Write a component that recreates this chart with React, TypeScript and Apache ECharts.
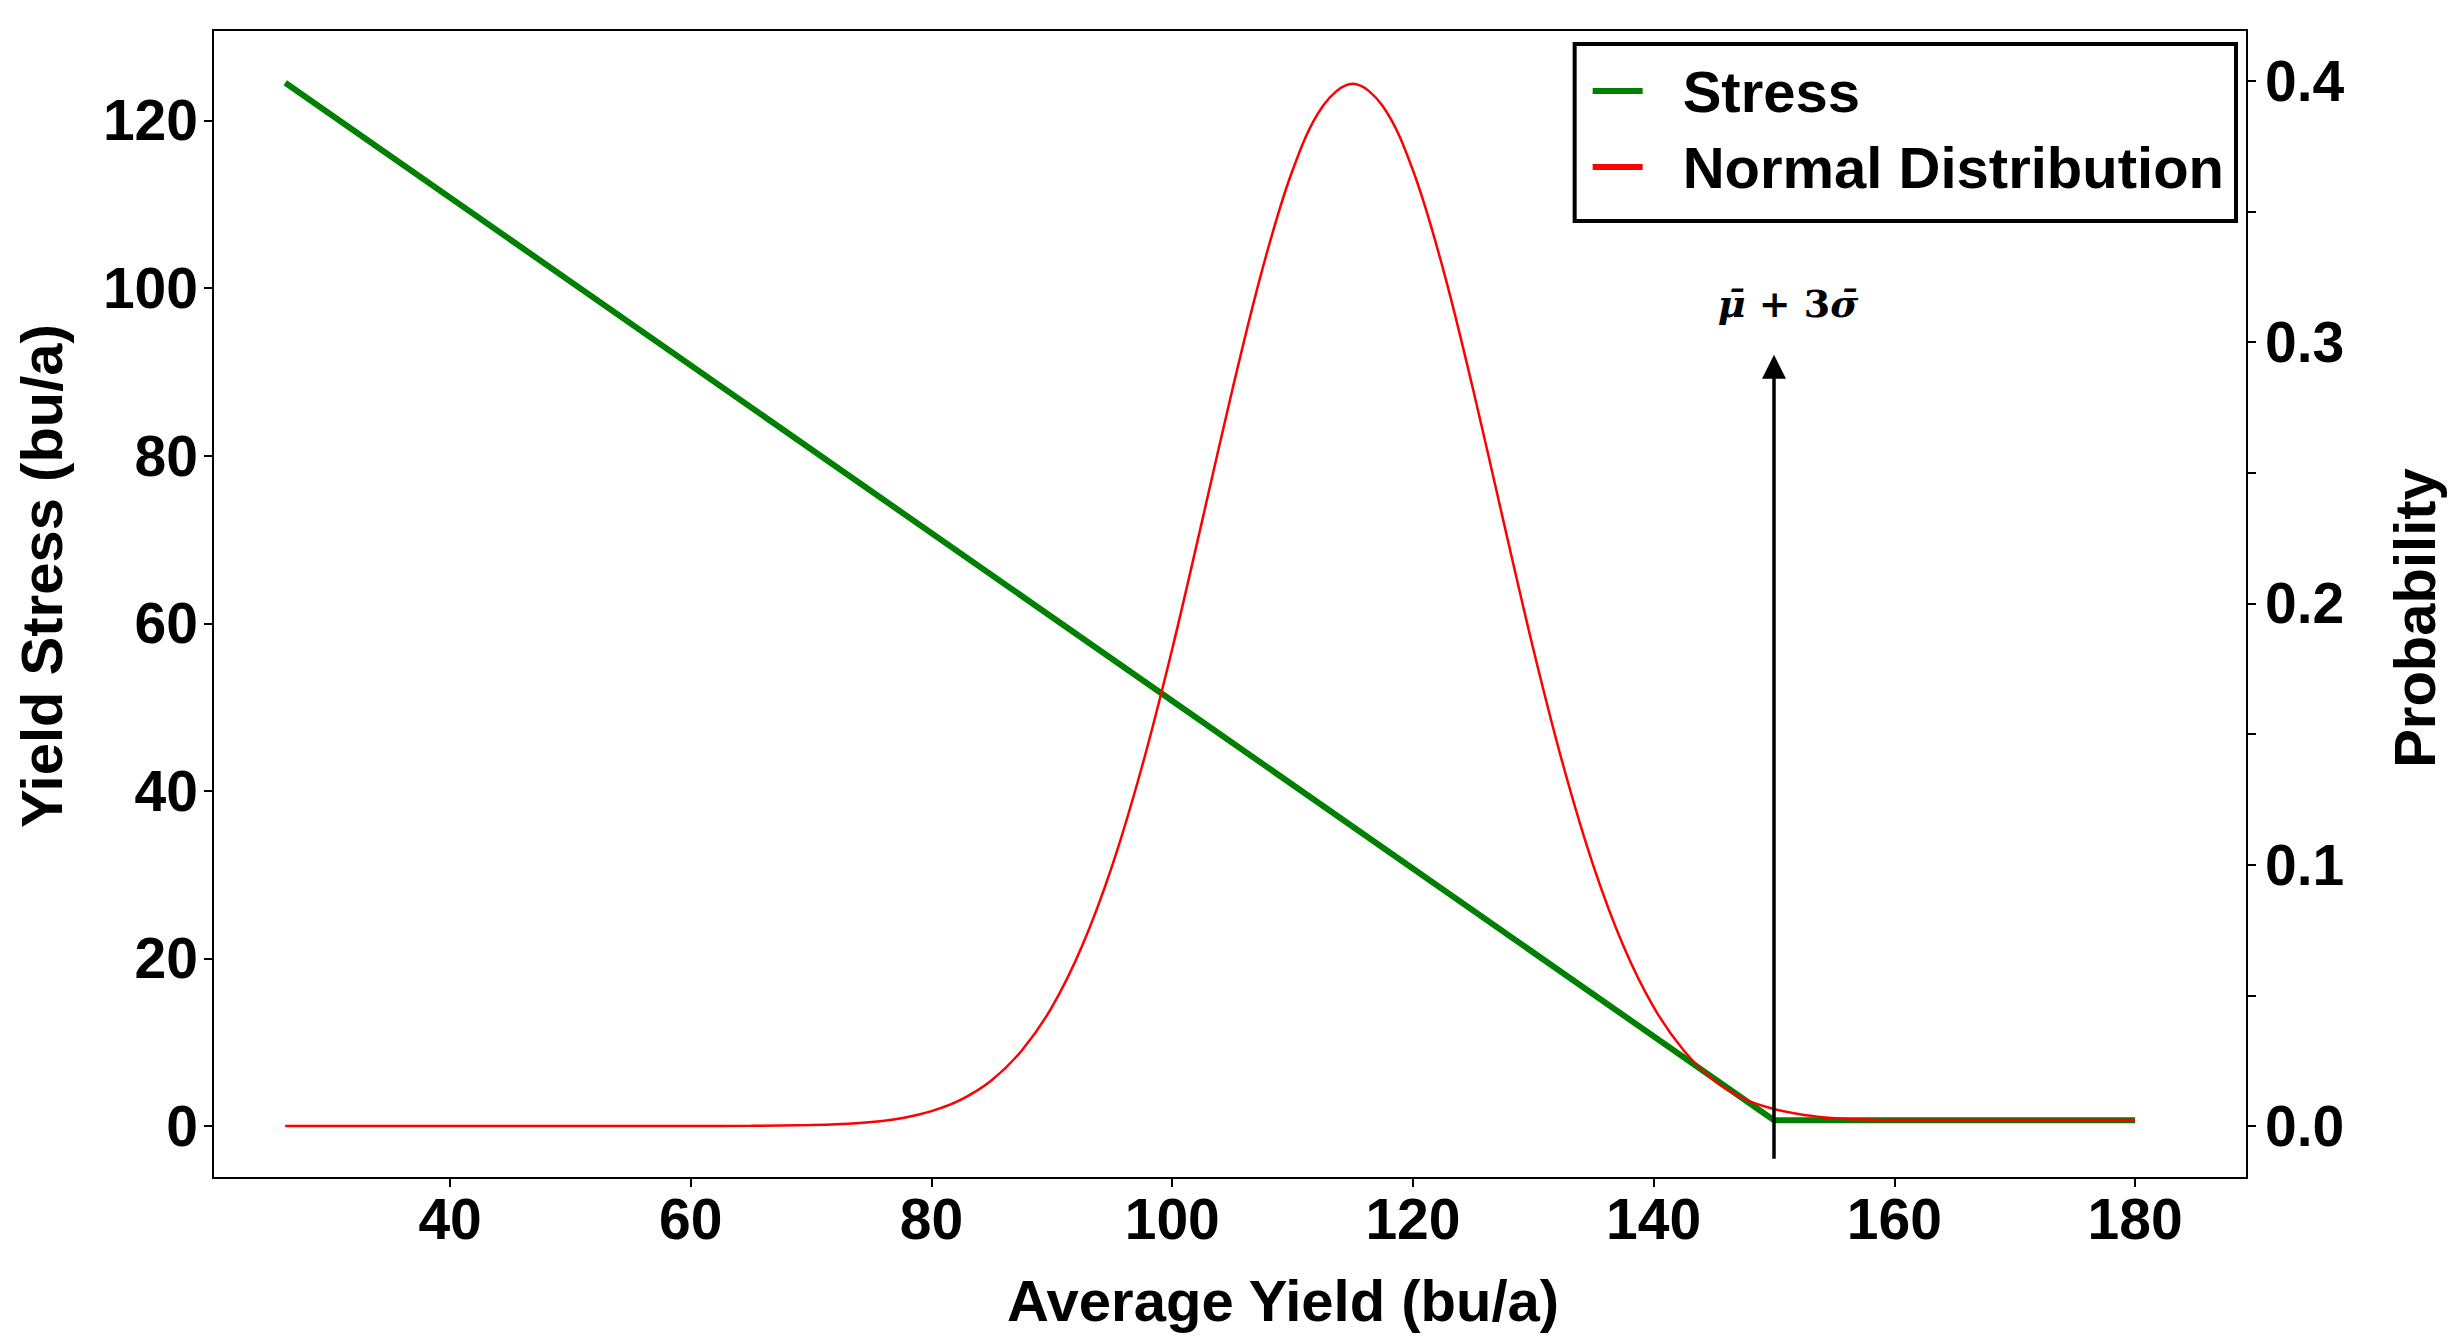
import React, { useEffect, useRef } from "react";
import * as echarts from "echarts";

// ---- data ----
const stressX = [26.3, 150, 180];
const stressY = [124.5, 0.7, 0.7];

const normX = [
  26.3, 40, 50, 60, 65, 70, 72.5, 75, 77.5, 80, 82.5, 85, 87.5, 90, 92.5, 95, 97.5,
  100, 102.5, 105, 107.5, 110, 112.5, 115, 117.5, 120, 122.5, 125, 127.5, 130,
  132.5, 135, 137.5, 140, 142.5, 145, 147.5, 150, 152.5, 155, 157.5, 160, 170, 180,
];
const normY = [
  0, 0, 0, 0.00001, 0.00007, 0.00035, 0.00075, 0.0015, 0.003, 0.0057, 0.0102, 0.0175,
  0.0289, 0.0455, 0.0688, 0.0995, 0.1378, 0.1826, 0.2319, 0.2819, 0.3281, 0.3658,
  0.3903, 0.3989, 0.3903, 0.3658, 0.3281, 0.2819, 0.2319, 0.1826, 0.1378, 0.0995,
  0.0688, 0.0455, 0.0289, 0.0175, 0.0104, 0.0065, 0.0042, 0.003, 0.0025, 0.0023,
  0.0023, 0.0023,
];

const xTicks = [40, 60, 80, 100, 120, 140, 160, 180];
const yLeftTicks = [0, 20, 40, 60, 80, 100, 120];
const yRightLabels = [0, 0.1, 0.2, 0.3, 0.4];
const yRightTicks = [0, 0.05, 0.1, 0.15, 0.2, 0.25, 0.3, 0.35, 0.4];

const arrowX = 150;
const arrowY = [-3.9, 90.6];
const arrowLabel = "{i|\u03BC\u0304} + 3{i|\u03C3\u0304}";

const seriesNames = ["Stress", "Normal Distribution"];
const xTitle = "Average Yield (bu/a)";
const yLeftTitle = "Yield Stress (bu/a)";
const yRightTitle = "Probability";

const FONT = "'Liberation Sans', Arial, sans-serif";
const SERIF = "'DejaVu Serif', 'Liberation Serif', serif";

export default function App() {
  const ref = useRef<HTMLDivElement>(null);

  useEffect(() => {
    if (!ref.current) return;
    const chart = echarts.init(ref.current, undefined, { renderer: "svg" });

    const tickLabel = {
      fontFamily: FONT,
      fontWeight: "bold" as const,
      fontSize: 57,
      color: "#000",
    };
    const axisTick = { show: true, length: 9, lineStyle: { color: "#000", width: 2 } };

    chart.setOption({
      animation: false,
      backgroundColor: "#fff",
      grid: {
        left: 213,
        top: 30,
        width: 2034,
        height: 1148,
        show: true,
        borderColor: "#000",
        borderWidth: 2,
        backgroundColor: "transparent",
      },
      legend: {
        orient: "vertical",
        right: 220,
        top: 44,
        backgroundColor: "#fff",
        borderColor: "#000",
        borderWidth: 4,
        borderRadius: 0,
        padding: [18, 12, 25, 18],
        itemGap: 18,
        itemWidth: 50,
        itemHeight: 6,
        icon: "rect",
        data: seriesNames,
        textStyle: {
          fontFamily: FONT,
          fontWeight: "bold",
          fontSize: 58,
          lineHeight: 58,
          color: "#000",
          padding: [0, 0, 0, 35],
        },
      },
      xAxis: {
        type: "value",
        min: 20.3,
        max: 189.3,
        axisLine: { show: false, onZero: false },
        axisTick: { ...axisTick, customValues: xTicks },
        axisLabel: { ...tickLabel, margin: 12, customValues: xTicks },
        splitLine: { show: false },
      },
      yAxis: [
        {
          type: "value",
          position: "left",
          min: -6.2,
          max: 130.8,
          axisLine: { show: false, onZero: false },
          axisTick: { ...axisTick, customValues: yLeftTicks },
          axisLabel: { ...tickLabel, margin: 15, customValues: yLeftTicks },
          splitLine: { show: false },
        },
        {
          type: "value",
          position: "right",
          min: -0.0199,
          max: 0.4195,
          axisLine: { show: false, onZero: false },
          axisTick: { ...axisTick, customValues: yRightTicks },
          axisLabel: {
            ...tickLabel,
            margin: 18,
            customValues: yRightLabels,
            formatter: (v: number) => v.toFixed(1),
          },
          splitLine: { show: false },
        },
      ],
      series: [
        {
          name: seriesNames[0],
          type: "line",
          yAxisIndex: 0,
          symbol: "none",
          data: stressX.map((x, i) => [x, stressY[i]]),
          lineStyle: { color: "#008000", width: 6 },
          itemStyle: { color: "#008000" },
          markLine: {
            silent: true,
            symbol: ["none", "triangle"],
            symbolSize: [24, 24],
            lineStyle: { color: "#000", width: 3.5, type: "solid" },
            label: {
              show: true,
              position: "end",
              distance: 44,
              offset: [14, 0],
              formatter: arrowLabel,
              fontFamily: SERIF,
              fontWeight: "bold",
              fontSize: 38,
              color: "#000",
              rich: {
                i: {
                  fontFamily: SERIF,
                  fontStyle: "italic",
                  fontWeight: "bold",
                  fontSize: 38,
                  color: "#000",
                },
              },
            },
            data: [[{ coord: [arrowX, arrowY[0]] }, { coord: [arrowX, arrowY[1]] }]],
          },
        },
        {
          name: seriesNames[1],
          type: "line",
          yAxisIndex: 1,
          symbol: "none",
          smooth: 0.35,
          data: normX.map((x, i) => [x, normY[i]]),
          lineStyle: { color: "#ff0000", width: 2.5 },
          itemStyle: { color: "#ff0000" },
          z: 3,
        },
      ],
      graphic: [
        {
          type: "text",
          x: 1283,
          y: 1300,
          style: {
            text: xTitle,
            fontFamily: FONT,
            fontWeight: "bold",
            fontSize: 58,
            fill: "#000",
            textAlign: "center",
            textVerticalAlign: "middle",
          },
        },
        {
          type: "text",
          x: 41,
          y: 576,
          rotation: Math.PI / 2,
          style: {
            text: yLeftTitle,
            fontFamily: FONT,
            fontWeight: "bold",
            fontSize: 58,
            fill: "#000",
            textAlign: "center",
            textVerticalAlign: "middle",
          },
        },
        {
          type: "text",
          x: 2414,
          y: 618,
          rotation: Math.PI / 2,
          style: {
            text: yRightTitle,
            fontFamily: FONT,
            fontWeight: "bold",
            fontSize: 58,
            fill: "#000",
            textAlign: "center",
            textVerticalAlign: "middle",
          },
        },
      ],
    });

    return () => chart.dispose();
  }, []);

  return (
    <div
      ref={ref}
      style={{ position: "fixed", left: 0, top: 0, width: 2456, height: 1341, background: "#fff" }}
    />
  );
}
